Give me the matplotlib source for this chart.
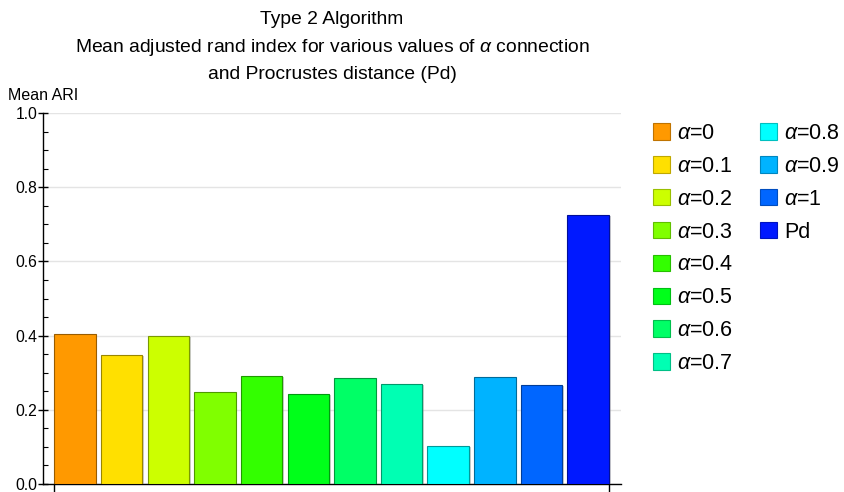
import matplotlib
matplotlib.use("Agg")
import matplotlib.pyplot as plt
import matplotlib.patches as mpatches
import matplotlib.patheffects as pe
from matplotlib.colors import to_rgb
from matplotlib.ticker import MultipleLocator, FixedLocator, NullFormatter

plt.rcParams["font.family"] = ["Liberation Sans", "DejaVu Sans"]
plt.rcParams["mathtext.fontset"] = "custom"
plt.rcParams["mathtext.rm"] = "Liberation Sans"
plt.rcParams["mathtext.it"] = "Liberation Sans:italic"

# Mean adjusted rand index per alpha value, plus the Procrustes distance
labels = [r"$\alpha$=0", r"$\alpha$=0.1", r"$\alpha$=0.2", r"$\alpha$=0.3",
          r"$\alpha$=0.4", r"$\alpha$=0.5", r"$\alpha$=0.6", r"$\alpha$=0.7",
          r"$\alpha$=0.8", r"$\alpha$=0.9", r"$\alpha$=1", "Pd"]
mean_ari = [0.405, 0.349, 0.398, 0.249, 0.291, 0.242,
            0.285, 0.269, 0.103, 0.288, 0.267, 0.725]
colors = ["#FF9900", "#FFE000", "#CCFF00", "#80FF00", "#33FF00", "#00FF1A",
          "#00FF66", "#00FFB3", "#00FFFF", "#00B3FF", "#0066FF", "#0019FF"]

W, H = 845, 492
fig = plt.figure(figsize=(W / 100, H / 100), dpi=100)
ax = fig.add_axes([43 / W, (H - 484) / H, (621 - 43) / W, (484 - 113) / H])

def darker(c, f=0.6):
    r, g, b = to_rgb(c)
    return (r * f, g * f, b * f)

positions = list(range(1, len(mean_ari) + 1))
bar_w = 0.89
bars = ax.bar(positions, mean_ari, width=bar_w, color=colors,
              edgecolor=[darker(c) for c in colors], linewidth=0.8, zorder=3)
for b in bars:
    b.set_path_effects([pe.SimplePatchShadow(offset=(1.2, -0.8),
                                             shadow_rgbFace="0.55", alpha=0.45),
                        pe.Normal()])

ax.set_xlim(0.314, 12.703)
ax.set_ylim(0, 1.0)

for s in ("top", "right"):
    ax.spines[s].set_visible(False)
for s in ("left", "bottom"):
    ax.spines[s].set_linewidth(1.0)

ax.yaxis.set_major_locator(MultipleLocator(0.2))
ax.yaxis.set_minor_locator(MultipleLocator(0.05))
ax.yaxis.set_major_formatter(matplotlib.ticker.FormatStrFormatter("%.1f"))
ax.tick_params(axis="y", which="major", direction="inout", length=7,
               width=1.0, labelsize=11.3, pad=0.5)
ax.tick_params(axis="y", which="minor", direction="in", length=3.5, width=0.8)

ax.xaxis.set_major_locator(FixedLocator([1 - bar_w / 2, 12 + bar_w / 2]))
ax.xaxis.set_major_formatter(NullFormatter())
ax.tick_params(axis="x", which="major", direction="out", length=6, width=1.0)

ax.grid(axis="y", which="major", color="#e4e4e4", linewidth=1.0, zorder=0)
ax.set_axisbelow(True)

fig.text(332 / W, 1 - 11 / H,
         "Type 2 Algorithm\n"
         r"Mean adjusted rand index for various values of $\alpha$ connection" "\n"
         "and Procrustes distance (Pd)",
         ha="center", va="top", fontsize=13.9, linespacing=1.6)

fig.text(8 / W, 1 - 100 / H, "Mean ARI", ha="left", va="baseline", fontsize=11.5)

handles = [mpatches.Patch(facecolor=c, edgecolor=darker(c, 0.75), linewidth=0.8)
           for c in colors]
leg_kw = dict(frameon=False, fontsize=15.5, handlelength=0.79, handleheight=0.79,
              handletextpad=0.33, labelspacing=0.55, borderpad=0, borderaxespad=0,
              loc="upper left")
fig.legend(handles[:8], labels[:8], bbox_to_anchor=(653 / W, 1 - 123 / H), **leg_kw)
fig.legend(handles[8:], labels[8:], bbox_to_anchor=(760 / W, 1 - 123 / H), **leg_kw)

fig.savefig("out.png", dpi=100)
